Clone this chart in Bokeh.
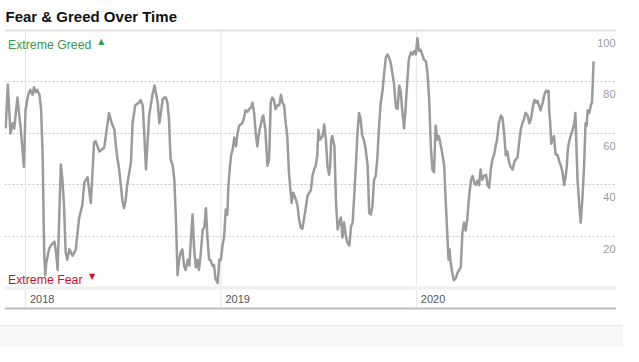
import pandas as pd
from bokeh.plotting import figure
from bokeh.models import Range1d, FixedTicker, Span, Div
from bokeh.layouts import column
from bokeh.core.properties import value
from bokeh.embed import file_html
from bokeh.resources import INLINE

# ---------------- data ----------------
title_text = "Fear & Greed Over Time"
greed_label = "Extreme Greed"
fear_label = "Extreme Fear"
origin = "2018-01-01"  # day offsets below are counted from this date

day_offsets = [
    -37, -33, -28, -24, -21, -15, -9, -3, 0, 5, 9, 13, 16, 19, 22, 26, 29, 32, 35, 37,
    39, 44, 47, 54, 57, 60, 63, 66, 69, 72, 75, 78, 82, 88, 94, 100, 106, 110, 116, 122,
    125, 128, 131, 138, 147, 156, 161, 166, 169, 172, 175, 181, 184, 187, 190, 194, 197, 200, 205, 212,
    215, 219, 222, 225, 231, 237, 241, 247, 250, 253, 256, 259, 262, 265, 268, 271, 275, 278, 281, 284,
    287, 290, 293, 296, 299, 303, 306, 309, 312, 315, 318, 321, 324, 327, 331, 334, 337, 340, 343, 346,
    349, 352, 355, 359, 362, 365, 368, 371, 374, 377, 379, 382, 384, 387, 390, 393, 396, 399, 405, 408,
    411, 415, 418, 421, 424, 427, 430, 433, 436, 440, 442, 444, 448, 450, 452, 455, 458, 461, 464, 467,
    471, 474, 477, 480, 483, 486, 489, 492, 494, 497, 500, 505, 508, 511, 514, 517, 520, 523, 527, 530,
    533, 536, 539, 542, 545, 547, 550, 555, 558, 561, 564, 567, 569, 571, 573, 577, 580, 583, 586, 589,
    592, 595, 598, 601, 605, 608, 611, 614, 617, 620, 623, 626, 629, 632, 635, 639, 642, 645, 648, 651,
    654, 657, 660, 663, 667, 670, 673, 676, 679, 682, 685, 688, 692, 695, 698, 701, 704, 707, 710, 713,
    716, 720, 723, 726, 729, 732, 735, 738, 741, 744, 748, 751, 754, 757, 760, 763, 766, 769, 772, 776,
    779, 782, 785, 788, 790, 792, 794, 797, 800, 804, 807, 810, 813, 816, 819, 822, 825, 828, 832, 835,
    838, 841, 844, 847, 850, 853, 856, 860, 863, 866, 869, 872, 875, 878, 881, 884, 888, 891, 894, 897,
    900, 903, 906, 910, 913, 916, 919, 922, 925, 928, 931, 934, 938, 941, 944, 947, 949, 951, 953, 956,
    959, 962, 966, 969, 972, 975, 977, 978, 980, 982, 984, 987, 990, 994, 997, 1000, 1003, 1006, 1009, 1011,
    1013, 1015, 1018, 1022, 1025, 1027, 1029, 1031, 1034, 1037, 1040, 1043, 1046, 1048, 1050, 1053, 1056, 1058, 1059, 1061,
]

fear_greed = [
    62, 79, 60, 64, 62, 74, 62, 47, 69, 75, 77, 75, 78, 76, 77, 75, 70, 52, 13, 5,
    10, 15, 16.5, 18, 14, 7, 27, 48, 42, 32, 14, 11, 15, 12.5, 15, 27, 32, 41, 43, 33,
    44, 56.5, 57, 53, 54.5, 68, 64, 61.5, 55, 50, 46, 34, 31, 34, 40, 45, 49, 64, 71, 72,
    73, 71, 59, 46, 67, 75, 78.6, 72, 64, 68, 73, 74, 74, 72, 65.5, 50, 47.5, 42, 26.6, 5,
    11, 14, 15, 8.7, 7, 11, 8.7, 19, 28.5, 15, 8, 11, 7, 12.6, 22.7, 23.5, 31, 19, 11, 10.7,
    8.7, 9, 3.4, 2, 11, 11, 16.5, 20, 30.5, 28.5, 40, 47.5, 51.5, 54, 58.4, 55, 60, 63, 64, 66,
    69, 68.5, 69.5, 70, 72, 68, 60, 55, 60, 64, 66, 67, 61.5, 54, 47.5, 50, 72, 74, 73, 69.5,
    71, 71, 75, 72, 71, 64, 59, 45, 40, 33, 37, 34.4, 32, 26.6, 23.5, 23, 26.6, 30.5, 36, 37,
    38, 43.5, 46, 47.5, 51.5, 61.5, 57.6, 59, 63.5, 57.6, 47.5, 44, 47.5, 57.6, 59, 55, 33, 22.7, 25.4, 27.4,
    19.6, 25.4, 20.8, 17.7, 16.5, 24, 25.4, 36, 47.5, 60, 68, 65.5, 59, 57.6, 54.5, 47.5, 29, 28.5, 32, 42,
    43.5, 50, 61.5, 71, 77, 83.7, 89.5, 90.7, 89.5, 87.6, 83.7, 79.8, 70, 69.5, 78.6, 76, 68, 62, 70, 80,
    89, 91.5, 90.7, 92, 90.7, 97, 92, 92.6, 90.7, 88.7, 88, 83, 73, 55, 46, 45, 63, 57.6, 59, 55,
    51.5, 47.5, 33, 20, 11, 15, 10, 6, 3, 4, 6, 7, 8, 21.5, 25.4, 22.3, 26.6, 34.4, 42, 43.5,
    41, 40, 41.7, 40, 46, 42, 43.5, 44, 40, 39, 46, 50, 51.5, 55, 58, 64, 67, 66, 60, 51.5,
    53, 49, 47, 46, 49, 50, 50.7, 56.5, 61.5, 64, 65.5, 68, 67, 64, 65.5, 69.5, 72, 73, 72, 72.7,
    71, 69, 72, 75, 76.6, 76, 76.6, 69.5, 64, 56, 57.6, 59, 52, 51.5, 49, 47.5, 45, 40, 43.5, 47.5,
    54, 56.5, 59, 61.5, 64, 68, 55, 42, 33, 25.4, 34.4, 46, 64, 63, 69, 68, 71, 72, 77, 88,
]

year_starts = ["2018-01-01", "2019-01-01", "2020-01-01"]
year_labels = ["2018", "2019", "2020"]
y_tick_values = [20, 40, 60, 80, 100]
y_tick_labels = ["20", "40", "60", "80", "100"]
grid_values = [20, 40, 60, 80]

# ---------------- view / layout constants ----------------
view_start_days = -39.2
view_end_days = 1103.8
y_bottom, y_top = -8.74, 111.65
base_line_value = -7.96   # darker rule under the year labels

origin_ts = pd.Timestamp(origin)
dates = origin_ts + pd.to_timedelta(day_offsets, unit="D")
x_start = origin_ts + pd.Timedelta(days=view_start_days)
x_end = origin_ts + pd.Timedelta(days=view_end_days)
year_dates = pd.to_datetime(year_starts)

FONT = value("Liberation Sans")

p = figure(
    width=623, height=325,
    x_axis_type="datetime",
    x_range=Range1d(x_start, x_end),
    y_range=Range1d(y_bottom, y_top),
    x_axis_location=None, y_axis_location=None,
    toolbar_location=None, output_backend="svg",
    min_border_left=4, min_border_right=7, min_border_top=0, min_border_bottom=15,
    outline_line_color=None,
    background_fill_color="white", border_fill_color="white",
)

p.xgrid.visible = False
p.ygrid.ticker = FixedTicker(ticks=grid_values)
p.ygrid.grid_line_color = "#c6c6c6"
p.ygrid.grid_line_dash = "2 2"
p.ygrid.grid_line_width = 1

# vertical year separators
p.segment(x0=year_dates, y0=[base_line_value] * len(year_dates),
          x1=year_dates, y1=[100] * len(year_dates),
          line_color="#e4e4e4", line_width=1)

# horizontal rules
p.add_layout(Span(location=100, dimension="width", line_color="#e2e2e2", line_width=2))
p.add_layout(Span(location=0, dimension="width", line_color="#efefef", line_width=3))
p.add_layout(Span(location=base_line_value, dimension="width", line_color="#bfbfbf", line_width=2))

# data line
p.line(dates, fear_greed, line_color="#9b9b9b", line_width=2.5, line_join="round")

# title
p.text(x=[x_start], y=[100], text=[title_text], text_font=FONT, text_font_style="bold",
       text_font_size="15px", text_color="#111111", text_baseline="alphabetic",
       text_align="left", x_offset=1, y_offset=-14)

# extreme labels
p.text(x=[x_start], y=[100], text=[greed_label], text_font=FONT, text_font_size="12.3px",
       text_color="#3a9b4b", text_baseline="alphabetic", text_align="left",
       x_offset=3.5, y_offset=15)
p.text(x=[x_start], y=[100], text=["\u25B2"], text_font=value("DejaVu Sans"), text_font_size="8px",
       text_color="#3a9b4b", text_baseline="middle", text_align="center",
       x_offset=96.8, y_offset=11)
p.text(x=[x_start], y=[0], text=[fear_label], text_font=FONT, text_font_size="12.3px",
       text_color="#c8102e", text_baseline="alphabetic", text_align="left",
       x_offset=3.5, y_offset=-7.5)
p.text(x=[x_start], y=[0], text=["\u25BC"], text_font=value("DejaVu Sans"), text_font_size="8px",
       text_color="#c8102e", text_baseline="middle", text_align="center",
       x_offset=87.7, y_offset=-11)

# y tick labels (inside, right)
p.text(x=[x_end] * len(y_tick_values), y=y_tick_values, text=y_tick_labels, text_font=FONT,
       text_font_size="11px", text_color="#9a9a9a", text_baseline="middle", text_align="right",
       x_offset=-1, y_offset=12.5)

# year labels
p.text(x=year_dates, y=[0] * len(year_dates), text=year_labels, text_font=FONT,
       text_font_size="11px", text_color="#555555", text_baseline="middle", text_align="left",
       x_offset=4.5, y_offset=11)

footer = Div(text="", width=623, height=21, margin=0,
             styles={"background-color": "#f7f7f7", "border-top": "1px solid #e6e6e6",
                     "box-sizing": "border-box"})

layout = column(p, footer, spacing=0)

open("out.html", "w").write(file_html(layout, INLINE))
